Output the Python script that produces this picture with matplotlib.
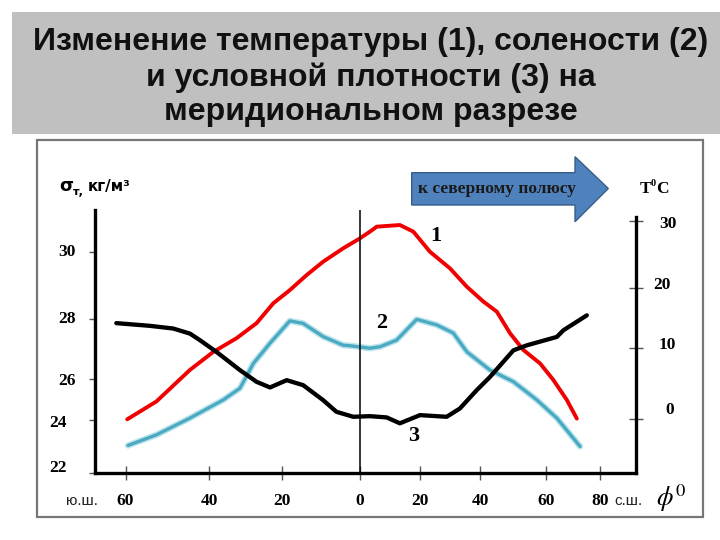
import numpy as np
import matplotlib
matplotlib.use("Agg")
import matplotlib.pyplot as plt
from matplotlib.patches import Rectangle, Polygon
from matplotlib.scale import FuncScale

# ---------------- data (latitude: south negative, north positive) ----------------
# curve 3: conditional density sigma_t, kg/m3
dens_lat = [-62.2, -54.2, -48.6, -44.6, -42.2, -38.0, -31.5, -26.9, -23.2, -18.7, -14.5,
            -9.4, -6.0, -1.7, 3.3, 8.9, 13.3, 20.0, 28.9, 33.3, 38.9, 43.0, 50.1, 54.2,
            64.0, 66.4, 75.1]
dens_val = [27.85, 27.76, 27.67, 27.50, 27.28, 26.89, 26.28, 25.84, 25.57, 25.92, 25.68,
            24.96, 24.40, 24.16, 24.19, 24.13, 23.88, 24.24, 24.16, 24.56, 25.44, 26.05,
            26.94, 27.11, 27.39, 27.61, 28.10]
# curve 1: temperature, deg C
temp_lat = [-59.6, -52.6, -44.6, -38.9, -32.4, -26.9, -22.3, -17.9, -13.6, -9.4, -4.3,
            0.0, 3.3, 5.6, 13.3, 17.8, 23.3, 30.0, 35.6, 41.0, 45.1, 49.1, 53.1, 58.2,
            62.7, 67.7, 71.4]
temp_val = [0.0, 2.5, 6.9, 9.4, 11.6, 14.1, 17.4, 19.6, 21.9, 23.9, 25.9,
            27.4, 28.4, 29.15, 29.4, 28.4, 25.4, 22.9, 20.15, 17.7, 16.0, 12.4, 9.7, 7.8,
            5.5, 2.7, 0.1]
# curve 2: salinity, permille (no scale shown)
sal_lat = [-59.4, -52.6, -44.6, -36.1, -31.5, -27.8, -23.2, -17.9, -14.5, -9.4, -4.3,
           -2.6, 3.3, 6.7, 12.2, 18.9, 25.6, 31.1, 35.6, 43.0, 50.1, 57.2, 64.0, 72.6]
sal_val = [34.05, 34.26, 34.59, 34.95, 35.18, 35.67, 36.07, 36.51, 36.46, 36.20, 36.03,
           36.02, 35.97, 36.00, 36.13, 36.54, 36.43, 36.27, 35.90, 35.54, 35.31, 34.95,
           34.59, 34.03]

lat_ticks = [-60, -40, -20, 0, 20, 40, 60, 80]
lat_labels = ["60", "40", "20", "0", "20", "40", "60", "80"]
dens_ticks = [22, 24, 26, 28, 30]
temp_ticks = [0, 10, 20, 30]

title_lines = ["Изменение температуры (1), солености (2)",
               "и условной плотности (3) на",
               "меридиональном разрезе"]

# ---------------- hand-drawn (non-uniform) axis scales ----------------
LAT_KN = np.array([-80, -60, -40, -20, 0, 20, 40, 60, 80, 100], float)
LAT_PX = np.array([42.1, 125.7, 209.3, 281.7, 360, 420, 480, 546, 600, 654], float)
D_KN = np.array([20, 22, 24, 26, 28, 30, 32], float)
D_PX = np.array([526.6, 473.3, 420.0, 378.3, 318.3, 251.7, 185.1])
T_KN = np.array([-10, 0, 10, 20, 30, 40], float)
T_PX = np.array([490.9, 419.3, 347.7, 287.7, 221.0, 154.3])

def x_fwd(v):
    return np.interp(v, LAT_KN, LAT_PX)
def x_inv(u):
    return np.interp(u, LAT_PX, LAT_KN)
def make_y(kn, px):
    def fwd(v):
        return -np.interp(v, kn, px)
    def inv(u):
        return np.interp(-np.asarray(u), px[::-1], kn[::-1])
    return fwd, inv

W, H = 720, 540
def fx(x): return x / W
def fy(y): return 1 - y / H

fig = plt.figure(figsize=(7.2, 5.4), dpi=100)
fig.patch.set_facecolor("white")

# title box
fig.patches.append(Rectangle((fx(12), fy(134)), fx(720) - fx(12), fy(12) - fy(134),
                             transform=fig.transFigure, facecolor="#c0c0c0",
                             edgecolor="none", zorder=0))
# frame
fig.patches.append(Rectangle((fx(37), fy(517)), fx(703) - fx(37), fy(140) - fy(517),
                             transform=fig.transFigure, facecolor="none",
                             edgecolor="#777777", linewidth=1.6, zorder=0))
title_font = ["Liberation Sans Narrow", "Liberation Sans", "DejaVu Sans"]
for txt, yb in zip(title_lines, [50, 86, 120]):
    fig.text(fx(371), fy(yb), txt, ha="center", va="baseline", fontsize=23,
             fontweight="bold", family=title_font, color="#111111")

ax_rect = [fx(95), fy(473.3), fx(636) - fx(95), fy(210) - fy(473.3)]
ax = fig.add_axes(ax_rect)
ax.set_xscale(FuncScale(ax.xaxis, (x_fwd, x_inv)))
ax.set_xlim(-67.3, 93.3)
ax.set_ylim(33.5, 38.7)
ax.yaxis.set_visible(False)
for s in ["left", "right", "top"]:
    ax.spines[s].set_visible(False)
ax.spines["bottom"].set_linewidth(2.4)
ax.set_xticks(lat_ticks)
ax.set_xticklabels(lat_labels)
ax.tick_params(axis="x", direction="inout", length=10, width=1.0, color="#555555",
               pad=9, labelsize=12.5)
for lab in ax.get_xticklabels():
    lab.set_fontfamily("Liberation Serif")
    lab.set_fontweight("bold")
ax.patch.set_visible(False)

# salinity (curve 2) with soft glow
ax.plot(sal_lat, sal_val, color="#bfe4ee", lw=4.6, solid_capstyle="round", zorder=2)
ax.plot(sal_lat, sal_val, color="#4aaac2", lw=2.4, solid_capstyle="round", zorder=3)

# temperature axis (right)
ax_t = ax.twinx()
ax_t.set_yscale(FuncScale(ax_t.yaxis, make_y(T_KN, T_PX)))
ax_t.set_ylim(-7.54, 31.65)
for s in ["left", "top", "bottom"]:
    ax_t.spines[s].set_visible(False)
ax_t.spines["right"].set_linewidth(2.4)
ax_t.spines["right"].set_bounds(-7.54, 30.6)
ax_t.set_yticks(temp_ticks)
ax_t.tick_params(axis="y", direction="inout", length=10, width=1.0, color="#555555",
                 labelright=False)
ax_t.plot(temp_lat, temp_val, color="#f00000", lw=2.8, solid_capstyle="round", zorder=3)
t_off = {30: (23, -3), 20: (17, 3), 10: (23, 3), 0: (29, 9)}
for v in temp_ticks:
    ax_t.annotate(str(v), xy=(1, v), xycoords=("axes fraction", "data"),
                  xytext=(t_off[v][0] * 0.72, t_off[v][1] * 0.72),
                  textcoords="offset points", ha="left", va="center", fontsize=12.5,
                  fontweight="bold", family="Liberation Serif", annotation_clip=False)

# density axis (left)
ax_d = ax.twinx()
ax_d.set_yscale(FuncScale(ax_d.yaxis, make_y(D_KN, D_PX)))
ax_d.set_ylim(22, 31.27)
for s in ["right", "top", "bottom"]:
    ax_d.spines[s].set_visible(False)
ax_d.spines["left"].set_visible(True)
ax_d.spines["left"].set_linewidth(2.4)
ax_d.yaxis.set_ticks_position("left")
ax_d.set_yticks(dens_ticks)
ax_d.tick_params(axis="y", direction="out", length=4, width=1.0, color="#555555",
                 labelleft=False, labelright=False)
ax_d.plot(dens_lat, dens_val, color="#000000", lw=3.1, solid_capstyle="round", zorder=4)
d_off = {30: (-19, 0), 28: (-19, 0), 26: (-19, -2), 24: (-28, -3), 22: (-28, 5)}
for v in dens_ticks:
    ax_d.annotate(str(v), xy=(0, v), xycoords=("axes fraction", "data"),
                  xytext=(d_off[v][0] * 0.72, d_off[v][1] * 0.72),
                  textcoords="offset points", ha="right", va="center", fontsize=12.5,
                  fontweight="bold", family="Liberation Serif", annotation_clip=False)

# equator line
ax_d.axvline(0, color="black", lw=1.1, zorder=1)

# curve numbers
serif_b = dict(family="Liberation Serif", fontweight="bold", fontsize=16,
               ha="center", va="center")
fig.text(fx(436), fy(236), "1", **serif_b)
fig.text(fx(382), fy(323), "2", **serif_b)
fig.text(fx(414), fy(436), "3", **serif_b)

# hemisphere labels
fig.text(fx(82), fy(501), "ю.ш.", ha="center", va="center", fontsize=11,
         family="Liberation Sans", color="#222222")
fig.text(fx(628), fy(501), "с.ш.", ha="center", va="center", fontsize=11,
         family="Liberation Sans", color="#222222")
fig.text(fx(656), fy(506), r"$\phi^{\mathit{0}}$", ha="left", va="baseline",
         fontsize=19, math_fontfamily="stix")

# left axis title: sigma_t, kg/m3
fig.text(fx(59), fy(191), "σ", ha="left", va="baseline", fontsize=13,
         fontweight="bold", family="DejaVu Sans")
fig.text(fx(73), fy(195), "т,", ha="left", va="baseline", fontsize=8,
         fontweight="bold", family="DejaVu Sans")
fig.text(fx(88), fy(191), "кг/м³", ha="left", va="baseline", fontsize=11,
         fontweight="bold", family="DejaVu Sans")

# right axis title T0C
fig.text(fx(640), fy(193), "T", ha="left", va="baseline", fontsize=12.5,
         fontweight="bold", family="Liberation Serif")
fig.text(fx(650.5), fy(186), "0", ha="left", va="baseline", fontsize=7.5,
         fontweight="bold", family="Liberation Serif")
fig.text(fx(656.5), fy(193), "C", ha="left", va="baseline", fontsize=12.5,
         fontweight="bold", family="Liberation Serif")

# arrow "to the north pole"
arrow_px = [(411.7, 172.7), (575, 172.7), (575, 156.7), (608.3, 188.5),
            (575, 221.7), (575, 205), (411.7, 205)]
fig.patches.append(Polygon([(fx(a), fy(b)) for a, b in arrow_px], closed=True,
                           transform=fig.transFigure, facecolor="#4f81bd",
                           edgecolor="#385d8a", linewidth=1.0, zorder=1))
fig.text(fx(497), fy(189), "к северному полюсу", ha="center", va="center",
         fontsize=12.5, fontweight="bold", family="Liberation Serif", color="#1a1a1a")

fig.savefig("out.png", dpi=100)
